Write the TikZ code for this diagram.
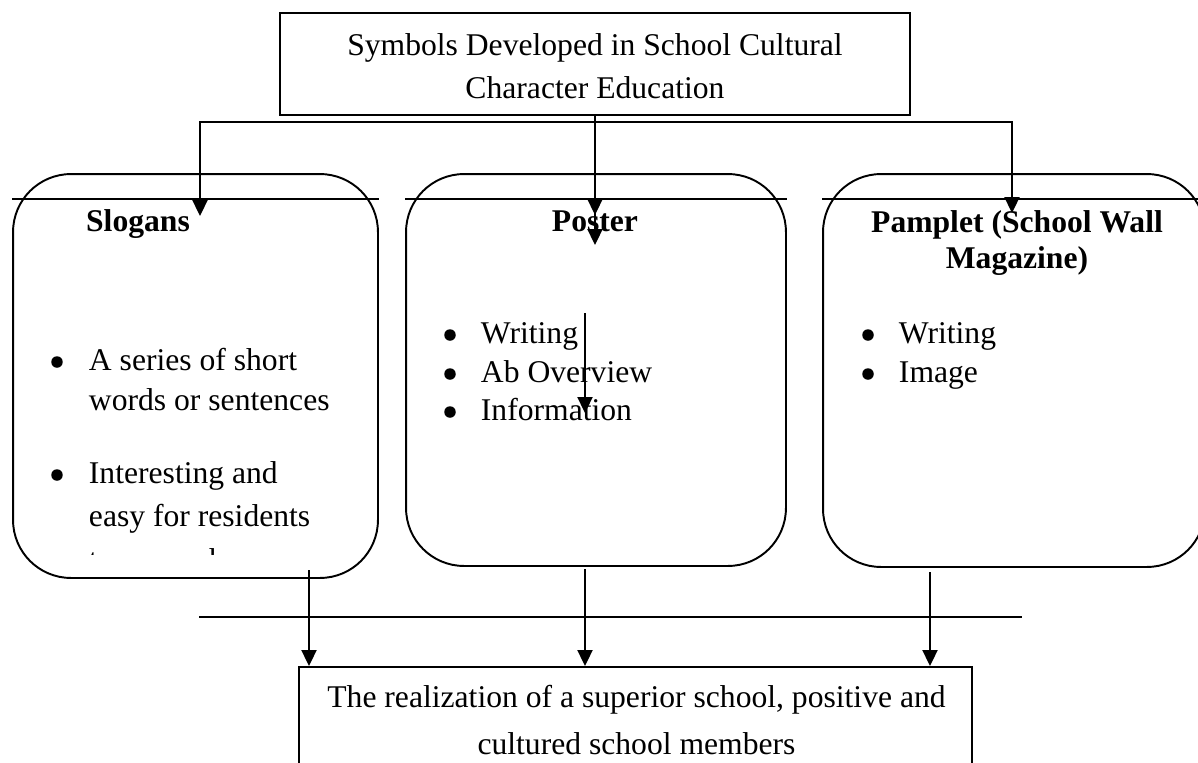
\documentclass[tikz,border=0pt]{standalone}
\usepackage{fontspec}
\setmainfont{Liberation Serif}
\usetikzlibrary{arrows.meta}
\newcommand{\bigtext}{\fontsize{18}{24.7}\selectfont}

\begin{document}
\begin{tikzpicture}[x=0.02cm,y=-0.02cm,line width=1.1pt,>={Triangle[length=0.32cm,width=0.3cm]},
  roundbox/.style={draw,rounded corners=1.16cm,inner sep=0pt},
  head/.style={anchor=base,font=\bigtext\bfseries,inner sep=0pt},
  dot/.style={circle,fill,inner sep=0pt,minimum size=0.23cm},
  item/.style={anchor=base west,font=\bigtext,inner sep=0pt},
  arr/.style={->,line width=1.3pt}]
\useasboundingbox (0,0) rectangle (1198,762);
\clip (0,0) rectangle (1198,762);

\node[draw,minimum width=12.6cm,minimum height=2.04cm,inner ysep=0pt,align=center,font=\bigtext] (symbols) at (595,64) {};
\node[align=center,font=\bigtext] (symbolstext) at (595,66) {Symbols Developed in School Cultural\\Character Education};

\node[roundbox,minimum width=7.3cm,minimum height=8.08cm] (slogansbox) at (195.5,376) {};
\node[roundbox,minimum width=7.6cm,minimum height=7.84cm] (posterbox) at (596,370) {};
\node[roundbox,minimum width=7.64cm,minimum height=7.86cm] (pampletbox) at (1014,370.5) {};
\foreach \b in {slogansbox,posterbox,pampletbox} \draw (\b.west |- 0,199) -- (\b.east |- 0,199);

\node[head] (slogans) at (138,231) {Slogans};
\node[head] (poster) at (595,231) {Poster};
\node[head,anchor=center,align=center,font=\fontsize{18}{20.4}\selectfont\bfseries] (pamplet) at (1017,243) {Pamplet (School Wall\\Magazine)};

% slogans list
\node[dot] (slogdotA) at (57,362) {};
\node[item] (slogA) at (88,370) {A series of short};
\node[item] (slogB) at (88,410) {words or sentences};
\node[dot] (slogdotB) at (57,475) {};
\node[item] (slogC) at (88,483) {Interesting and};
\node[item] (slogD) at (88,526) {easy for residents};
\begin{scope}
\clip (0,0) rectangle (1198,554);
\node[item] (slogE) at (88,570) {to remember};
\end{scope}

% poster list
\node[dot] (postdotA) at (450,335) {};
\node[item] (postA) at (480,343) {Writing};
\node[dot] (postdotB) at (450,374) {};
\node[item] (postB) at (480,382) {Ab Overview};
\node[dot] (postdotC) at (450,412) {};
\node[item] (postC) at (480,420) {Information};

% pamplet list
\node[dot] (pampdotA) at (868,335) {};
\node[item] (pampA) at (898,343) {Writing};
\node[dot] (pampdotB) at (868,374) {};
\node[item] (pampB) at (898,382) {Image};

\node[draw,minimum width=13.46cm,minimum height=2.6cm,anchor=north,inner sep=0pt] (result) at (635.5,666) {};
\node[align=center,font=\fontsize{18}{27.2}\selectfont] (resulttext) at (636.5,720) {The realization of a superior school, positive and\\cultured school members};

\coordinate (fork) at (595,122);
\coordinate (slogtip) at (200,216);
\coordinate (posttip) at (595,245);
\coordinate (posttipb) at (595,215);
\coordinate (pamptip) at (1012,213);
\coordinate (ovtop) at (585,313);
\coordinate (ovtip) at (585,413);
\coordinate (outa) at (309,570);
\coordinate (outb) at (585,569);
\coordinate (outc) at (930,572);

\draw[arr] (symbols.south) -- (posttip); \draw[arr] (fork) -- (posttipb); \draw[arr] (fork) -| (slogtip); \draw[arr] (fork) -| (pamptip);
\draw[arr] (ovtop) -- (ovtip);
\draw (199,617) -- (1022,617);
\draw[arr] (outa) -- (outa |- result.north); \draw[arr] (outb) -- (outb |- result.north); \draw[arr] (outc) -- (outc |- result.north);
\end{tikzpicture}
\end{document}
